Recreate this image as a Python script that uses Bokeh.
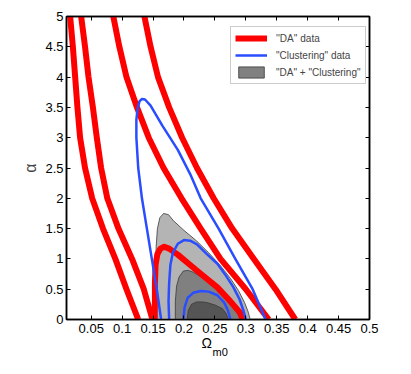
from bokeh.plotting import figure
from bokeh.models import Range1d, FixedTicker, LinearAxis, Legend, LegendItem, Title
from bokeh.embed import file_html
from bokeh.resources import INLINE

# ---------------- data ----------------
x_ticks = [0.05, 0.1, 0.15, 0.2, 0.25, 0.3, 0.35, 0.4, 0.45, 0.5]
x_tick_labels = ["0.05", "0.1", "0.15", "0.2", "0.25", "0.3", "0.35", "0.4", "0.45", "0.5"]
y_ticks = [0, 0.5, 1, 1.5, 2, 2.5, 3, 3.5, 4, 4.5, 5]
y_tick_labels = ["0", "0.5", "1", "1.5", "2", "2.5", "3", "3.5", "4", "4.5", "5"]

alpha_grid = [5, 4.5, 4, 3.5, 3, 2.5, 2, 1.5, 1, 0.5, 0]

# "DA" data contours (red)
da_outer_left_x = [0.0159, 0.0203, 0.024, 0.0277, 0.032, 0.040, 0.0515, 0.069, 0.089, 0.107, 0.126]
da_inner_left_x = [0.0337, 0.040, 0.0456, 0.0527, 0.059, 0.066, 0.076, 0.094, 0.116, 0.135, 0.149]
da_inner_right_x = [0.0857, 0.0955, 0.107, 0.124, 0.143, 0.167, 0.196, 0.227, 0.259, 0.300, 0.337]
da_outer_right_x = [0.136, 0.146, 0.158, 0.176, 0.197, 0.221, 0.248, 0.278, 0.313, 0.348, 0.380]
da_closed_x = [0.152, 0.153, 0.153, 0.154, 0.157, 0.162, 0.168, 0.176, 0.19, 0.21, 0.23, 0.254, 0.275, 0.29, 0.295]
da_closed_y = [0, 0.3, 0.6, 0.9, 1.08, 1.17, 1.2, 1.17, 1.07, 0.9, 0.73, 0.53, 0.3, 0.12, 0]

# "Clustering" data contours (blue)
cl_outer_x = [0.163, 0.156, 0.148, 0.140, 0.132, 0.126, 0.123, 0.123, 0.125, 0.128, 0.132, 0.137, 0.146,
              0.165, 0.19, 0.21, 0.227, 0.256, 0.283, 0.311, 0.332]
cl_outer_y = [0, 0.5, 1.0, 1.5, 2.0, 2.5, 3.0, 3.3, 3.48, 3.6, 3.64, 3.63, 3.53,
              3.2, 2.8, 2.4, 2.0, 1.5, 1.0, 0.5, 0]
cl_mid_x = [0.176, 0.175, 0.176, 0.178, 0.182, 0.19, 0.2, 0.21, 0.221, 0.237, 0.254, 0.268, 0.28, 0.29, 0.296, 0.30]
cl_mid_y = [0, 0.3, 0.6, 0.9, 1.1, 1.25, 1.31, 1.3, 1.24, 1.08, 0.92, 0.72, 0.53, 0.33, 0.15, 0]
cl_inner_x = [0.199, 0.201, 0.206, 0.215, 0.227, 0.24, 0.254, 0.265, 0.271, 0.275]
cl_inner_y = [0, 0.2, 0.36, 0.44, 0.47, 0.46, 0.40, 0.28, 0.15, 0]

# "DA" + "Clustering" joint regions (filled)
joint_2s_x = [0.157, 0.155, 0.154, 0.155, 0.157, 0.161, 0.167, 0.175, 0.183, 0.2, 0.22, 0.24, 0.258, 0.275, 0.288, 0.298, 0.304, 0.307]
joint_2s_y = [0, 0.5, 0.9, 1.2, 1.5, 1.68, 1.75, 1.73, 1.63, 1.47, 1.3, 1.1, 0.9, 0.68, 0.48, 0.28, 0.12, 0]
joint_1s_x = [0.186, 0.186, 0.188, 0.192, 0.199, 0.207, 0.215, 0.235, 0.254, 0.27, 0.28, 0.29, 0.294]
joint_1s_y = [0, 0.3, 0.55, 0.7, 0.8, 0.81, 0.78, 0.66, 0.53, 0.38, 0.26, 0.12, 0]
joint_0s_x = [0.205, 0.207, 0.212, 0.22, 0.23, 0.237, 0.25, 0.262, 0.268, 0.272]
joint_0s_y = [0, 0.15, 0.25, 0.29, 0.29, 0.28, 0.24, 0.18, 0.1, 0]

legend_labels = ["''DA'' data", '"Clustering" data', '"DA" + "Clustering"']

# ---------------- figure ----------------
FONT = "Liberation Sans"

p = figure(frame_width=303, frame_height=303,
           min_border_left=66, min_border_right=34, min_border_top=16, min_border_bottom=52,
           x_range=Range1d(0.01, 0.5), y_range=Range1d(0, 5),
           output_backend="svg", toolbar_location=None)
p.grid.visible = False
p.outline_line_color = "black"
p.outline_line_width = 1.5
p.background_fill_color = "white"
p.border_fill_color = "white"

def style_axis(ax, ticks, labels, show):
    ax.ticker = FixedTicker(ticks=ticks)
    ax.major_tick_in = 4
    ax.major_tick_out = 0
    ax.minor_tick_line_color = None
    ax.axis_line_width = 1.5
    ax.axis_line_color = "black"
    ax.major_tick_line_color = "black"
    ax.major_tick_line_width = 1
    if show:
        ax.major_label_overrides = dict(zip(ticks, labels))
        ax.major_label_text_font = FONT
        ax.major_label_text_font_size = "13px"
        ax.major_label_text_color = "black"
    else:
        ax.major_label_overrides = {t: "" for t in ticks}
        ax.major_label_text_font_size = "0px"
        ax.major_label_standoff = 0

style_axis(p.xaxis[0], x_ticks, x_tick_labels, True)
style_axis(p.yaxis[0], y_ticks, y_tick_labels, True)
p.xaxis[0].major_label_standoff = 4
p.yaxis[0].major_label_standoff = 3

top_ax = LinearAxis()
style_axis(top_ax, x_ticks, x_tick_labels, False)
p.add_layout(top_ax, "above")
right_ax = LinearAxis()
style_axis(right_ax, y_ticks, y_tick_labels, False)
p.add_layout(right_ax, "right")

p.yaxis[0].axis_label = "α"
p.yaxis[0].axis_label_text_font = FONT
p.yaxis[0].axis_label_text_font_size = "16px"
p.yaxis[0].axis_label_text_font_style = "normal"
p.yaxis[0].axis_label_standoff = 3

# x-axis label: Omega with subscript m0 (two stacked titles below the axis)
p.add_layout(Title(text="Ω", align="left", offset=135, standoff=-5,
                   text_font=FONT, text_font_size="14px", text_font_style="normal",
                   text_color="black"), "below")
p.add_layout(Title(text="m0", align="left", offset=146, standoff=-10,
                   text_font=FONT, text_font_size="11px", text_font_style="normal",
                   text_color="black"), "below")

# joint filled regions
light = p.patch(joint_2s_x, joint_2s_y, fill_color="#b4b4b4", line_color="#3a3a3a", line_width=0.8)
mid = p.patch(joint_1s_x, joint_1s_y, fill_color="#808080", line_color="#3a3a3a", line_width=0.8)
dark = p.patch(joint_0s_x, joint_0s_y, fill_color="#555555", line_color="#3a3a3a", line_width=0.8)

# DA contours
red = p.multi_line(
    xs=[da_outer_left_x, da_inner_left_x, da_inner_right_x, da_outer_right_x, da_closed_x],
    ys=[alpha_grid, alpha_grid, alpha_grid, alpha_grid, da_closed_y],
    line_color="#ff0000", line_width=6, line_join="round")

# Clustering contours
blue = p.multi_line(
    xs=[cl_outer_x, cl_mid_x, cl_inner_x],
    ys=[cl_outer_y, cl_mid_y, cl_inner_y],
    line_color="#2a4dff", line_width=2.5, line_join="round")

legend = Legend(items=[LegendItem(label=legend_labels[0], renderers=[red]),
                       LegendItem(label=legend_labels[1], renderers=[blue]),
                       LegendItem(label=legend_labels[2], renderers=[mid])],
                location=(164, 235), margin=0, padding=4, spacing=3,
                glyph_width=32, glyph_height=14, label_height=14, label_standoff=9,
                label_text_font=FONT, label_text_font_size="10px",
                border_line_color="#999999", border_line_width=1,
                background_fill_color="white", background_fill_alpha=1.0)
p.add_layout(legend)

open("out.html", "w").write(file_html(p, INLINE))
